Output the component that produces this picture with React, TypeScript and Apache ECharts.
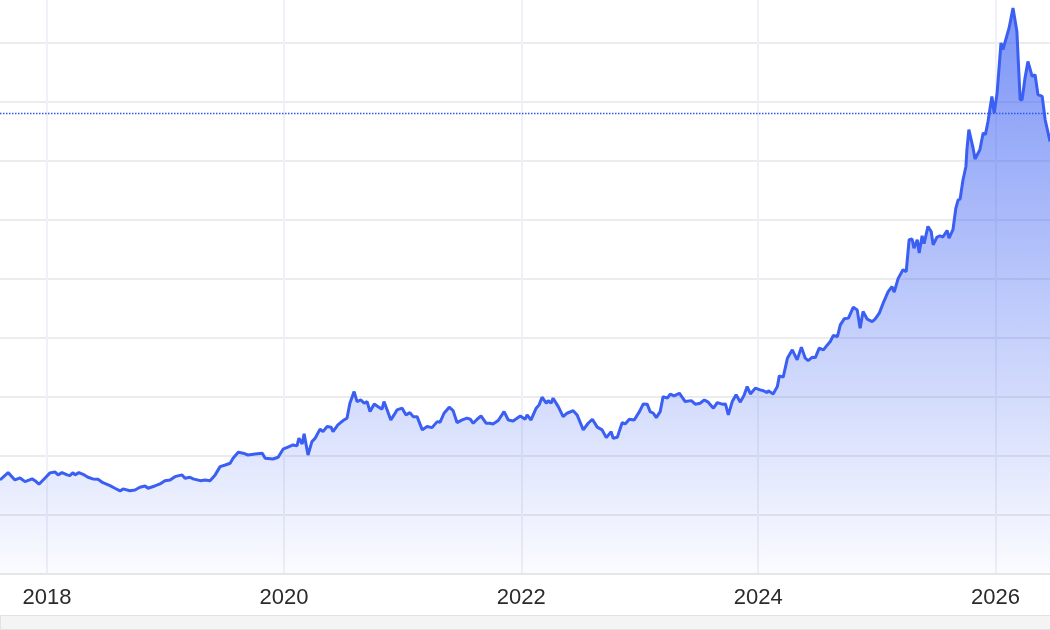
import React, { useEffect, useRef } from "react";
import * as echarts from "echarts";

const dates = [
  "2017-08-09","2017-09-03","2017-09-24","2017-10-10","2017-10-25","2017-11-16","2017-11-25","2017-12-07","2017-12-26",
  "2018-01-10","2018-01-25","2018-02-04","2018-02-16","2018-03-04","2018-03-12","2018-03-22","2018-03-28","2018-04-09",
  "2018-04-22","2018-05-07","2018-05-22","2018-06-07","2018-06-22","2018-07-14","2018-07-29","2018-08-14","2018-08-23",
  "2018-09-13","2018-09-29","2018-10-14","2018-10-30","2018-11-08","2018-11-29","2018-12-15","2018-12-30",
  "2019-01-15","2019-01-30","2019-02-21","2019-03-02","2019-03-17","2019-03-27","2019-04-18","2019-05-03","2019-05-18",
  "2019-06-03","2019-06-18","2019-07-04","2019-07-19","2019-07-28","2019-08-13","2019-08-28","2019-09-12","2019-10-04",
  "2019-10-26","2019-11-04","2019-11-28","2019-12-14","2019-12-29",
  "2020-01-13","2020-01-29","2020-02-10","2020-02-16","2020-02-26","2020-03-03","2020-03-15","2020-03-27","2020-04-06",
  "2020-04-21","2020-04-30","2020-05-13","2020-05-25","2020-05-31","2020-06-15","2020-07-01","2020-07-13","2020-07-22",
  "2020-08-04","2020-08-13","2020-08-25","2020-09-04","2020-09-13","2020-09-22","2020-10-05","2020-10-17","2020-10-29",
  "2020-11-04","2020-11-13","2020-11-25","2020-12-05","2020-12-14","2020-12-30",
  "2021-01-11","2021-01-23","2021-02-02","2021-02-14","2021-03-02","2021-03-17","2021-04-01","2021-04-17","2021-04-26",
  "2021-05-08","2021-05-24","2021-06-05","2021-06-17","2021-07-03","2021-07-18","2021-07-28","2021-08-06","2021-08-18",
  "2021-08-30","2021-09-15","2021-09-27","2021-10-06","2021-10-22","2021-11-09","2021-11-22","2021-12-07","2021-12-29",
  "2022-01-13","2022-01-19","2022-01-31","2022-02-16","2022-02-25","2022-03-06","2022-03-19","2022-03-25","2022-04-03",
  "2022-04-09","2022-04-25","2022-05-10","2022-05-22","2022-06-10","2022-06-22","2022-07-11","2022-07-26","2022-08-08",
  "2022-08-23","2022-09-07","2022-09-20","2022-10-05","2022-10-11","2022-10-24","2022-11-08","2022-11-17","2022-11-30",
  "2022-12-15","2022-12-31",
  "2023-01-12","2023-01-24","2023-02-02","2023-02-12","2023-02-21","2023-03-05","2023-03-14","2023-03-27","2023-04-05",
  "2023-04-17","2023-05-03","2023-05-21","2023-06-09","2023-06-21","2023-07-06","2023-07-19","2023-07-31","2023-08-16",
  "2023-08-28","2023-09-12","2023-09-22","2023-10-01","2023-10-13","2023-10-25","2023-11-07","2023-11-19","2023-11-28",
  "2023-12-08","2023-12-23",
  "2024-01-07","2024-01-14","2024-01-29","2024-02-01","2024-02-16","2024-02-29","2024-03-06","2024-03-18","2024-03-31",
  "2024-04-15","2024-04-30","2024-05-13","2024-05-25","2024-06-03","2024-06-16","2024-06-25","2024-07-07","2024-07-20",
  "2024-08-01","2024-08-10","2024-08-19","2024-09-01","2024-09-10","2024-09-22","2024-10-05","2024-10-20","2024-11-01",
  "2024-11-10","2024-11-19","2024-12-02","2024-12-17","2024-12-26",
  "2025-01-08","2025-01-20","2025-02-04","2025-02-16","2025-02-23","2025-03-07","2025-03-22","2025-04-01","2025-04-10",
  "2025-04-19","2025-04-25","2025-05-05","2025-05-11","2025-05-20","2025-05-26","2025-06-07","2025-06-17","2025-06-23",
  "2025-07-05","2025-07-14","2025-07-23","2025-08-05","2025-08-11","2025-08-23","2025-09-01","2025-09-08","2025-09-14",
  "2025-09-23","2025-10-02","2025-10-05","2025-10-11","2025-10-24","2025-10-30","2025-11-14","2025-11-24","2025-12-01",
  "2025-12-09","2025-12-21","2025-12-28",
  "2026-01-06","2026-01-18","2026-01-24","2026-02-06","2026-02-12","2026-02-24","2026-03-08","2026-03-18","2026-03-24",
  "2026-04-02","2026-04-11","2026-04-24","2026-05-03","2026-05-12","2026-05-25","2026-06-03","2026-06-18"
];

const prices = [
  1292,1354,1292,1309,1278,1301,1286,1256,1309,
  1352,1360,1335,1354,1335,1329,1354,1335,1354,
  1340,1315,1301,1298,1269,1244,1222,1199,1216,
  1201,1207,1230,1241,1222,1241,1258,1286,
  1292,1320,1335,1307,1315,1301,1286,1292,1286,
  1335,1405,1419,1434,1476,1527,1519,1504,1513,
  1519,1476,1470,1485,1553,
  1570,1589,1581,1646,1598,1683,1504,1617,1646,
  1723,1702,1745,1740,1702,1759,1796,1816,1943,
  2042,1957,1971,1943,1957,1872,1937,1914,1892,
  1957,1892,1801,1844,1886,1901,
  1844,1863,1829,1829,1717,1745,1736,1787,1782,
  1858,1909,1880,1779,1801,1816,1807,1773,1807,
  1835,1773,1773,1767,1796,1872,1801,1793,1835,
  1807,1844,1801,1901,1929,1994,1943,1965,1943,
  1986,1914,1829,1858,1880,1844,1717,1773,1807,
  1740,1717,1651,1702,1646,1655,1779,1767,1807,
  1801,1872,
  1937,1935,1872,1858,1821,1872,1999,1986,2020,
  2005,2028,1957,1965,1935,1943,1971,1952,1901,
  1948,1935,1937,1844,1957,2014,1952,2014,2084,
  2022,2071,
  2056,2052,2033,2050,2022,2084,2175,2164,2325,
  2396,2311,2419,2325,2305,2334,2330,2410,2396,
  2438,2466,2517,2509,2608,2659,2665,2758,2735,
  2580,2721,2656,2636,2656,
  2707,2792,2888,2933,2885,3000,3075,3060,3330,
  3336,3259,3330,3217,3364,3296,3443,3400,3287,
  3353,3364,3353,3409,3344,3415,3599,3669,3675,
  3839,3952,4094,4264,4108,4015,4094,4236,4222,
  4334,4546,4405,
  4575,5000,4943,5070,5127,5297,5098,4518,4518,
  4702,4843,4716,4730,4561,4546,4348,4164
];

const yearTicks = ["2018-01-01", "2020-01-01", "2022-01-01", "2024-01-01", "2026-01-01"];
const referenceLevel = 4405;
const axisStart = "2017-08-09";
const axisEnd = "2026-06-18";

const ts = (s: string) => Date.parse(s + "T00:00:00Z");

export default function App() {
  const ref = useRef<HTMLDivElement>(null);
  useEffect(() => {
    if (!ref.current) return;
    const chart = echarts.init(ref.current, null, { renderer: "svg" });
    const tickValues = yearTicks.map(ts);
    chart.setOption({
      animation: false,
      grid: { left: 0, right: 0, top: 0, bottom: 56.7, containLabel: false },
      xAxis: {
        type: "value",
        min: ts(axisStart),
        max: ts(axisEnd),
        axisLine: { show: true, lineStyle: { color: "#e4e4e4", width: 1.5 } },
        axisTick: { show: false, customValues: tickValues },
        axisLabel: {
          customValues: tickValues,
          formatter: (v: number) => String(new Date(v).getUTCFullYear()),
          color: "#2b2b2b",
          fontSize: 22,
          fontFamily: "Liberation Sans, Arial, sans-serif",
          margin: 12,
        },
        splitLine: { show: true, lineStyle: { color: "#eef1f7", width: 2 } },
      },
      yAxis: {
        type: "value",
        min: 500,
        max: 5500,
        interval: 500,
        axisLabel: { show: false },
        axisLine: { show: false },
        axisTick: { show: false },
        splitLine: { lineStyle: { color: "#e6e6e6", width: 1.5 } },
      },
      series: [
        {
          type: "line",
          data: dates.map((d, i) => [ts(d), prices[i]]),
          showSymbol: false,
          lineStyle: { color: "#3a5ff2", width: 3 },
          areaStyle: {
            color: new echarts.graphic.LinearGradient(0, 0, 0, 1, [
              { offset: 0, color: "rgba(58,95,242,0.95)" },
              { offset: 1, color: "rgba(58,95,242,0.03)" },
            ]),
          },
          markLine: {
            silent: true,
            symbol: "none",
            label: { show: false },
            lineStyle: { color: "#2f56f0", type: [1.5, 1.5], width: 1.3, opacity: 1 },
            data: [{ yAxis: referenceLevel }],
          },
        },
      ],
      graphic: [
        {
          type: "rect",
          left: 0,
          bottom: 0,
          shape: { width: 1050, height: 14 },
          style: { fill: "#f4f4f4", stroke: "#e2e2e2", lineWidth: 1 },
        },
      ],
    });
    return () => chart.dispose();
  }, []);
  return <div ref={ref} style={{ position: "fixed", left: 0, top: -16, width: 1050, height: 646 }} />;
}
